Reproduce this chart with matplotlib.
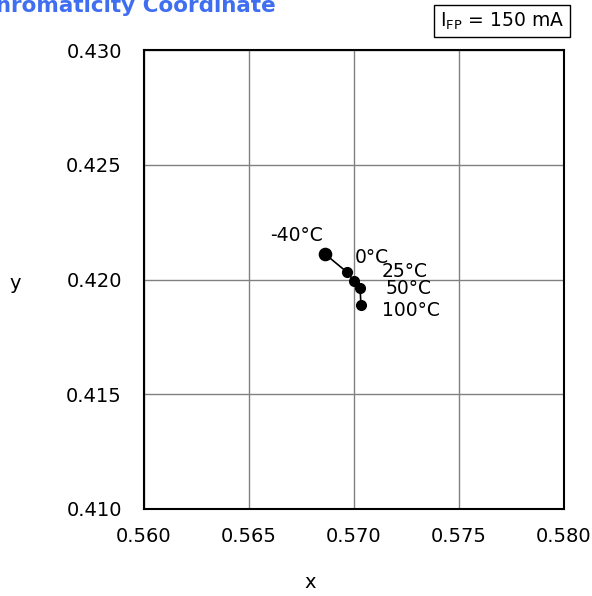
import numpy as np
import matplotlib.pyplot as plt

# chromaticity data vs temperature
temps = ["-40°C", "0°C", "25°C", "50°C", "100°C"]
cx = [0.56862, 0.56968, 0.57001, 0.57029, 0.57033]
cy = [0.42111, 0.42031, 0.41993, 0.41964, 0.41889]

xticks = [0.560, 0.565, 0.570, 0.575, 0.580]
yticks = [0.410, 0.415, 0.420, 0.425, 0.430]

# label offsets in pixels (dx to left edge, dy up)
offsets = [(-55, 19), (7, 15), (27, 10), (25, -1), (21, -6)]

fig = plt.figure(figsize=(5.92, 5.96), dpi=100)
ax = fig.add_axes([144/592, 1-509/596, 420/592, 459/596])

ax.plot(cx, cy, color="black", lw=1.2, zorder=3)
sizes = [8.8, 7, 7, 7, 7]
for xi, yi, s in zip(cx, cy, sizes):
    ax.plot(xi, yi, "o", color="black", ms=s, zorder=4)

for t, xi, yi, (dx, dy) in zip(temps, cx, cy, offsets):
    ax.annotate(t, (xi, yi), xytext=(dx, dy), textcoords="offset pixels",
                fontsize=13.5, ha="left", va="center")

ax.set_xlim(0.560, 0.580)
ax.set_ylim(0.410, 0.430)
ax.set_xticks(xticks)
ax.set_yticks(yticks)
ax.set_xticklabels([f"{v:.3f}" for v in xticks], fontsize=14)
ax.set_yticklabels([f"{v:.3f}" for v in yticks], fontsize=14)
ax.tick_params(axis="y", length=0, pad=16)
ax.tick_params(axis="x", length=0, pad=13)
ax.grid(True, color="#808080", lw=1)
for sp in ax.spines.values():
    sp.set_linewidth(1.5)

fig.text(15/592, 1-283/596, "y", fontsize=14, ha="center", va="center")
fig.text(310/592, 1-583/596, "x", fontsize=14, ha="center", va="center")

# title, cut at the left and top edge like the source
fig.text(276/592, 1-12/596, "Chromaticity Coordinate", fontsize=15.5,
         fontweight="bold", color="#3f6ef0", ha="right", va="baseline")

fig.text(502/592, 1-21/596, r"I$_{\mathrm{FP}}$ = 150 mA", fontsize=13.5,
         ha="center", va="center",
         bbox=dict(boxstyle="square,pad=0.3", fc="white", ec="black", lw=1))

fig.savefig("out.png", dpi=100)
